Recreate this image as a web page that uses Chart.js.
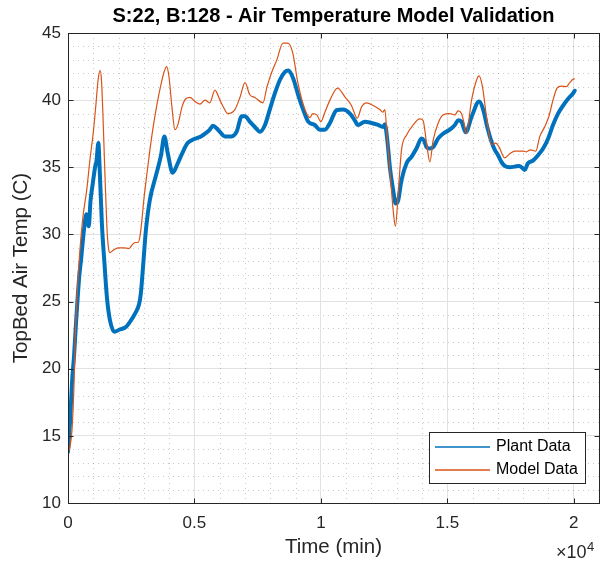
<!DOCTYPE html>
<html>
<head>
<meta charset="utf-8">
<script src="https://cdn.jsdelivr.net/npm/chart.js@4.4.1/dist/chart.umd.min.js"></script>
<style>
  html, body { margin: 0; padding: 0; background: #fff; }
  #wrap { width: 613px; height: 566px; }
</style>
</head>
<body>
<div id="wrap"><canvas id="c" width="613" height="566"></canvas></div>
<script>
// Measured plant air temperature (time in minutes, temperature in C)
const plantTime = [0, 80, 160, 240, 320, 450, 510, 640, 730, 820, 890, 980, 1070, 1130, 1200, 1250,
  1340, 1440, 1540, 1660, 1840, 2020, 2290, 2490, 2650, 2810, 2880, 2980, 3080, 3240, 3480, 3680,
  3810, 3940, 4140, 4340, 4530, 4730, 4990, 5260, 5420, 5610, 5730, 5930, 6210, 6470, 6670, 6870,
  7000, 7190, 7390, 7590, 7790, 7980, 8180, 8380, 8580, 8710, 8910, 9100, 9300, 9500, 9760, 9960,
  10160, 10360, 10620, 10880, 11150, 11340, 11470, 11740, 12000, 12270, 12460, 12530, 12640, 12730,
  12860, 12960, 13060, 13190, 13390, 13590, 13780, 13980, 14080, 14180, 14310, 14440, 14640, 14830,
  15100, 15300, 15430, 15560, 15730, 15970, 16260, 16420, 16580, 16750, 16880, 17010, 17140, 17270,
  17470, 17670, 17840, 18000, 18060, 18190, 18390, 18590, 18790, 18990, 19180, 19380, 19580, 19780,
  19970, 20040];
const plantTemp = [13.8, 16.0, 19.0, 21.0, 23.5, 27.0, 28.0, 30.5, 31.5, 30.6, 32.5, 33.8, 35.0, 35.5, 36.8, 35.0,
  30.8, 27.9, 25.3, 23.6, 22.75, 22.9, 23.1, 23.6, 24.1, 24.8, 25.6, 27.9, 30.3, 32.6, 34.4, 35.9,
  37.3, 36.1, 34.6, 35.3, 36.1, 36.8, 37.1, 37.3, 37.5, 37.8, 38.1, 37.8, 37.3, 37.3, 37.65, 38.8,
  38.8, 38.4, 38.0, 37.65, 38.15, 39.3, 40.5, 41.5, 42.1, 42.2, 41.6, 40.4, 39.3, 38.4, 38.15, 37.8,
  37.8, 38.3, 39.25, 39.3, 39.0, 38.5, 38.15, 38.4, 38.3, 38.15, 38.0, 38.2, 36.8, 35.0,
  33.3, 32.3, 32.55, 34.05, 35.3, 35.8, 36.4, 37.15, 37.0, 36.5, 36.4, 36.5, 37.15, 37.5,
  37.8, 38.15, 38.5, 38.4, 37.6, 38.8, 39.9, 39.3, 38.0, 36.9, 36.3, 35.9, 35.4, 35.1,
  35.0, 35.05, 35.1, 34.9, 34.8, 35.3, 35.5, 35.9, 36.4, 37.15, 38.15, 39.0, 39.6, 40.1,
  40.5, 40.7];

// Simulated model air temperature
const modelTime = [0, 80, 160, 240, 280, 360, 470, 590, 740, 870, 1000, 1110, 1190, 1270, 1320, 1380,
  1460, 1540, 1600, 1660, 1780, 1980, 2210, 2410, 2530, 2650, 2770, 2850, 2930, 3000, 3120, 3240,
  3360, 3520, 3680, 3800, 3900, 3990, 4110, 4230, 4350, 4510, 4660, 4820, 5020, 5220, 5420, 5610,
  5810, 6010, 6170, 6320, 6600, 6800, 7000, 7190, 7390, 7710, 7870, 8060, 8260, 8500, 8700, 8890,
  9090, 9370, 9570, 9680, 9840, 10000, 10160, 10360, 10660, 10950, 11210, 11440, 11610, 11810, 12070,
  12330, 12450, 12530, 12620, 12730, 12860, 12950, 13060, 13190, 13390, 13650, 13910, 14040, 14180,
  14310, 14440, 14640, 14830, 15100, 15300, 15430, 15560, 15650, 15750, 15960, 16160, 16260, 16390,
  16550, 16750, 16920, 17050, 17270, 17470, 17670, 18000, 18130, 18290, 18500, 18660, 18850, 19020,
  19180, 19340, 19510, 19710, 19840, 19970, 20040];
const modelTemp = [13.8, 14.2, 15.5, 19.0, 22.0, 25.5, 28.8, 31.3, 33.3, 35.6, 37.6, 39.8, 41.5, 42.2, 41.6, 39.0,
  34.5, 30.5, 29.0, 28.65, 28.8, 29.0, 29.0, 28.95, 29.2, 29.4, 29.4, 29.9, 31.2, 32.6, 34.5, 36.3,
  37.9, 39.7, 41.2, 42.1, 42.5, 41.8, 39.5, 37.8, 38.2, 39.5, 40.1, 40.2, 39.9, 39.7, 40.0, 39.8,
  40.75, 40.0, 39.4, 39.0, 39.3, 40.2, 41.3, 40.4, 40.2, 39.8, 41.0, 42.1, 43.0, 44.25, 44.25, 43.5,
  41.3, 39.3, 38.7, 39.0, 38.9, 38.4, 39.1, 40.0, 40.9, 40.25, 39.6, 38.65, 39.5, 39.8, 39.6,
  39.3, 39.1, 39.3, 37.3, 34.8, 31.8, 30.6, 33.1, 36.3, 37.4, 38.15, 38.6, 38.5, 36.8,
  35.4, 37.0, 38.3, 38.9, 39.0, 38.9, 39.2, 39.0, 38.4, 37.5, 40.0, 41.5, 41.8, 41.0,
  38.8, 36.7, 36.8, 36.5, 35.7, 36.0, 36.2, 36.2, 36.15, 36.3, 36.2, 37.3, 38.0, 38.8,
  40.0, 40.9, 41.05, 41.0, 41.3, 41.55, 41.6];

const xTickValues = [0, 5000, 10000, 15000, 20000];
const yTickValues = [10, 15, 20, 25, 30, 35, 40, 45];
const xMinorStep = 1000;
const yMinorStep = 1;

const FONT = '"Liberation Sans", Arial, Helvetica, sans-serif';
const AXIS_COLOR = '#262626';

function toPoints(xs, ys) {
  return xs.map((x, i) => ({ x: x, y: ys[i] }));
}

// Dotted minor grid, axes box with inward ticks, exponent label, title and legend
const matlabAxes = {
  id: 'matlabAxes',
  beforeDatasetsDraw(chart) {
    const { ctx, chartArea: a, scales: { x, y } } = chart;
    ctx.save();
    ctx.strokeStyle = 'rgba(38,38,38,0.25)';
    ctx.lineWidth = 1;
    ctx.setLineDash([1, 4]);
    for (let v = x.min + xMinorStep; v < x.max; v += xMinorStep) {
      if (v % 5000 === 0) continue;
      const px = Math.round(x.getPixelForValue(v)) + 0.5;
      ctx.beginPath(); ctx.moveTo(px, a.top); ctx.lineTo(px, a.bottom); ctx.stroke();
    }
    for (let v = y.min + yMinorStep; v < y.max; v += yMinorStep) {
      if (v % 5 === 0) continue;
      const py = Math.round(y.getPixelForValue(v)) + 0.5;
      ctx.beginPath(); ctx.moveTo(a.left, py); ctx.lineTo(a.right, py); ctx.stroke();
    }
    ctx.restore();
  },
  afterDatasetsDraw(chart) {
    const { ctx, chartArea: a, scales: { x, y } } = chart;
    ctx.save();
    ctx.strokeStyle = AXIS_COLOR;
    ctx.lineWidth = 1;
    ctx.setLineDash([]);
    const L = Math.round(a.left) + 0.5, R = Math.round(a.right) + 0.5;
    const T = Math.round(a.top) + 0.5, B = Math.round(a.bottom) + 0.5;
    ctx.strokeRect(L, T, R - L, B - T);
    const tl = 5;
    xTickValues.forEach(v => {
      const px = Math.round(x.getPixelForValue(v)) + 0.5;
      ctx.beginPath();
      ctx.moveTo(px, B); ctx.lineTo(px, B - tl);
      ctx.moveTo(px, T); ctx.lineTo(px, T + tl);
      ctx.stroke();
    });
    yTickValues.forEach(v => {
      const py = Math.round(y.getPixelForValue(v)) + 0.5;
      ctx.beginPath();
      ctx.moveTo(L, py); ctx.lineTo(L + tl, py);
      ctx.moveTo(R, py); ctx.lineTo(R - tl, py);
      ctx.stroke();
    });

    // x exponent
    ctx.fillStyle = AXIS_COLOR;
    ctx.textBaseline = 'alphabetic';
    ctx.textAlign = 'left';
    ctx.font = '18px ' + FONT;
    ctx.fillText('\u00d710', 556, 558);
    ctx.font = '13px ' + FONT;
    ctx.fillText('4', 587, 551);

    // title
    ctx.fillStyle = '#000';
    ctx.font = 'bold 20px ' + FONT;
    ctx.textAlign = 'center';
    ctx.textBaseline = 'middle';
    ctx.fillText('S:22, B:128 - Air Temperature Model Validation', (a.left + a.right) / 2, 16);

    // legend
    const bx = 429.5, by = 432.5, bw = 156, bh = 51;
    ctx.fillStyle = '#fff';
    ctx.fillRect(bx, by, bw, bh);
    ctx.strokeStyle = AXIS_COLOR;
    ctx.strokeRect(bx, by, bw, bh);
    const rows = [447, 470];
    chart.data.datasets.forEach((ds, i) => {
      const ly = rows[i];
      ctx.strokeStyle = ds.borderColor;
      ctx.lineWidth = 1.5;
      ctx.beginPath(); ctx.moveTo(435, ly); ctx.lineTo(490, ly); ctx.stroke();
      ctx.fillStyle = '#000';
      ctx.font = '16px ' + FONT;
      ctx.textAlign = 'left';
      ctx.textBaseline = 'middle';
      ctx.fillText(ds.label, 496, rows[i]);
    });
    ctx.restore();
  }
};

new Chart(document.getElementById('c'), {
  type: 'line',
  data: {
    datasets: [
      {
        label: 'Plant Data',
        data: toPoints(plantTime, plantTemp),
        borderColor: '#0072BD',
        borderWidth: 4,
        borderJoinStyle: 'round',
        borderCapStyle: 'round',
        cubicInterpolationMode: 'monotone',
        pointRadius: 0,
        fill: false,
        order: 2
      },
      {
        label: 'Model Data',
        data: toPoints(modelTime, modelTemp),
        borderColor: '#D95319',
        borderWidth: 1.2,
        cubicInterpolationMode: 'monotone',
        pointRadius: 0,
        fill: false,
        order: 1
      }
    ]
  },
  options: {
    responsive: false,
    animation: false,
    devicePixelRatio: 1,
    layout: { padding: { top: 33, right: 14, bottom: 0, left: 0 } },
    plugins: {
      legend: { display: false },
      title: { display: false },
      tooltip: { enabled: false }
    },
    scales: {
      x: {
        type: 'linear',
        min: 0,
        max: 21000,
        afterFit(s) { s.height = 63; },
        afterBuildTicks(s) { s.ticks = xTickValues.map(v => ({ value: v })); },
        ticks: {
          autoSkip: false,
          maxRotation: 0,
          padding: 10,
          color: AXIS_COLOR,
          font: { family: FONT, size: 17 },
          callback: v => String(v / 10000)
        },
        grid: { color: '#e2e2e2', lineWidth: 1, drawTicks: false },
        border: { display: false },
        title: {
          display: true,
          text: 'Time (min)',
          color: AXIS_COLOR,
          font: { family: FONT, size: 20.5 },
          padding: { top: 0, bottom: 6 }
        }
      },
      y: {
        min: 10,
        max: 45,
        afterFit(s) { s.width = 68; },
        afterBuildTicks(s) { s.ticks = yTickValues.map(v => ({ value: v })); },
        ticks: {
          autoSkip: false,
          padding: 7,
          color: AXIS_COLOR,
          font: { family: FONT, size: 17 }
        },
        grid: { color: '#e2e2e2', lineWidth: 1, drawTicks: false },
        border: { display: false },
        title: {
          display: true,
          text: 'TopBed Air Temp (C)',
          color: AXIS_COLOR,
          font: { family: FONT, size: 20.5 },
          padding: { top: 9, bottom: 0 }
        }
      }
    }
  },
  plugins: [matlabAxes]
});
</script>
</body>
</html>
